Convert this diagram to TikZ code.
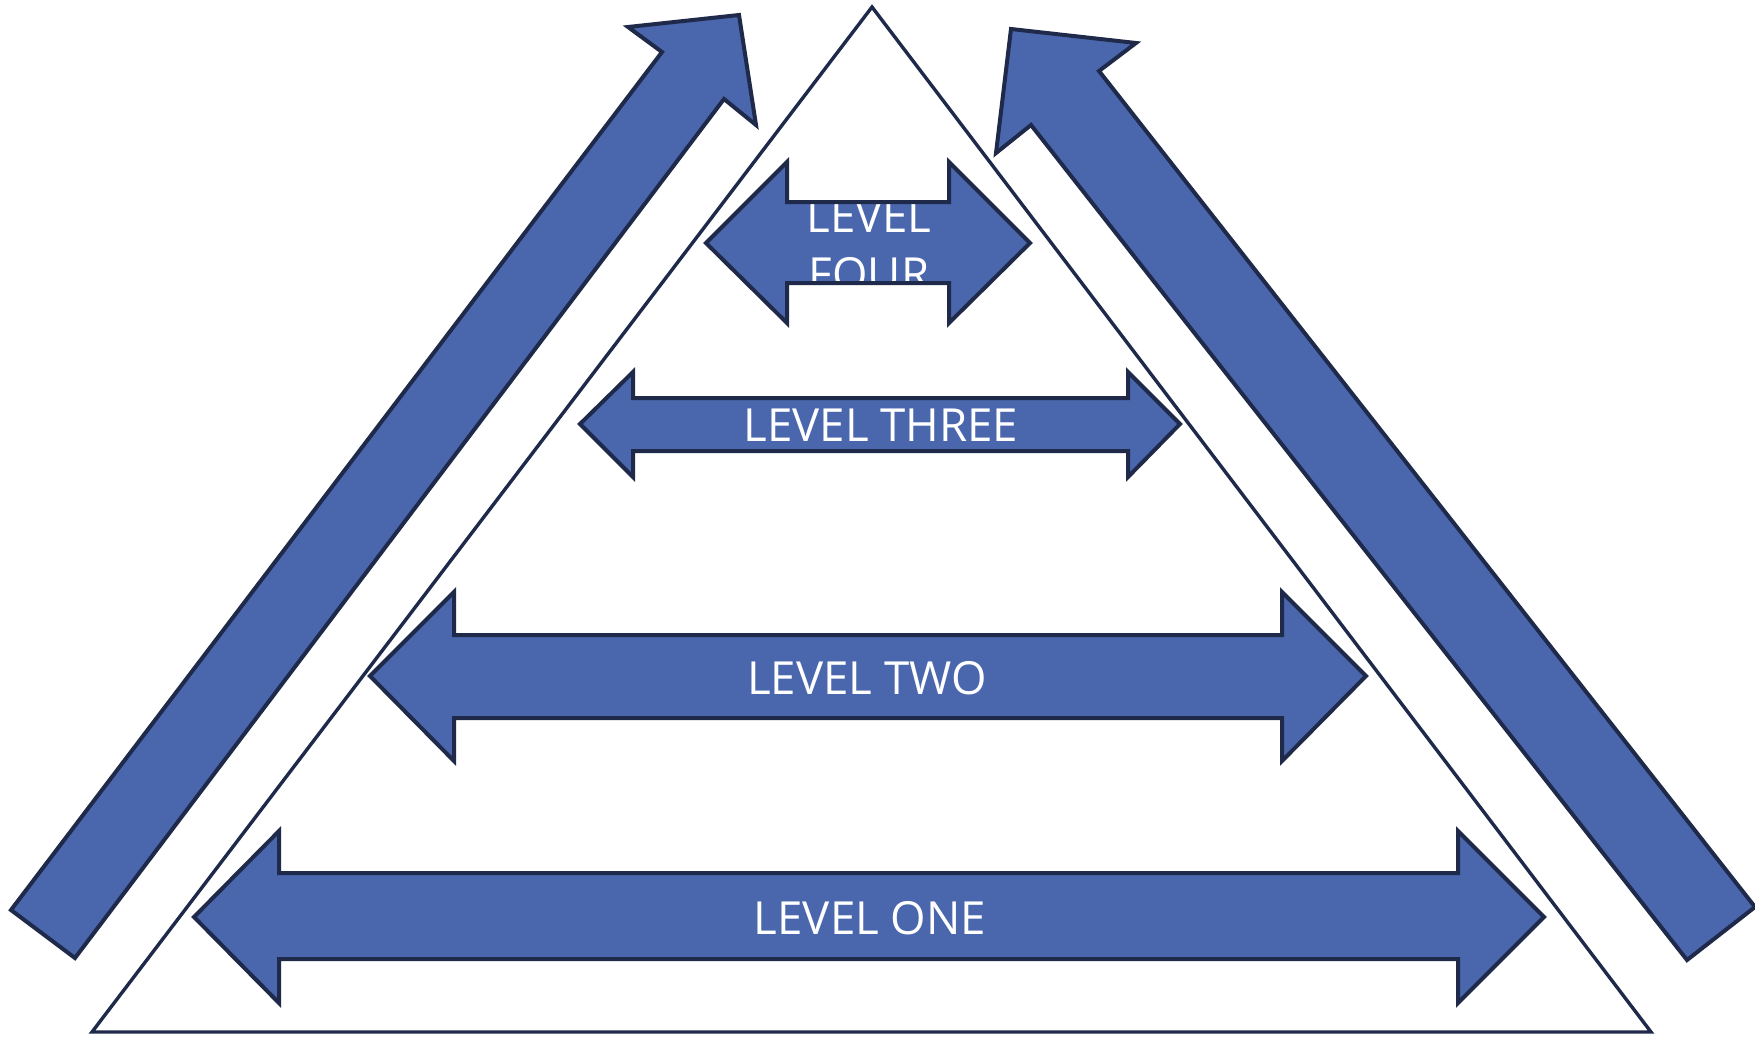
\documentclass[tikz,border=0pt]{standalone}
\usepackage{fontspec}
\setmainfont{Open Sans}
\usetikzlibrary{positioning}
\definecolor{lvlblue}{HTML}{4A67AD}
\definecolor{lvlline}{HTML}{1F2A4B}
\begin{document}
\begin{tikzpicture}[x=0.5pt,y=-0.5pt,
  lvl/.style={fill=lvlblue,draw=lvlline,line width=2pt,line join=miter},
  lvltext/.style={text=white,font=\fontsize{22.8}{29}\selectfont,align=center,inner sep=0pt}]

\useasboundingbox (0,0) rectangle (1755,1039);

% Draw the pyramid
\draw[lvlline,line width=1.7pt,line join=miter] (872,7) -- (1651,1032) -- (92,1032) -- cycle;

% Draw the big arrow on the left
\draw[lvl] (11,910) -- (662,52) -- (628,27) -- (739,15) -- (756,125) -- (724,99) -- (75,958) -- cycle;

% Draw the big arrow on the right
\draw[lvl] (1687,960) -- (1031,125) -- (996,153) -- (1011,29) -- (1136,43) -- (1099,71) -- (1755,907) -- cycle;

% Level one
\draw[lvl] (194,917) -- (279,831) -- (279,873) -- (1458,873) -- (1458,831) -- (1544,917)
  -- (1458,1003) -- (1458,959) -- (279,959) -- (279,1003) -- cycle;
\node[lvltext] (one) at (870,918) {LEVEL ONE};

% Level two
\draw[lvl] (370,676) -- (454,592) -- (454,635) -- (1282,635) -- (1282,592) -- (1366,676)
  -- (1282,761) -- (1282,718) -- (454,718) -- (454,761) -- cycle;
\node[lvltext] (two) at (867,678) {LEVEL TWO};

% Level three
\draw[lvl] (580,424) -- (633,372) -- (633,398) -- (1128,398) -- (1128,372) -- (1180,424)
  -- (1128,477) -- (1128,451) -- (633,451) -- (633,477) -- cycle;
\node[lvltext] (three) at (881,425) {LEVEL THREE};

% Level four (outline drawn again over the text)
\fill[lvlblue] (706,243) -- (787,162) -- (787,202) -- (949,202) -- (949,162) -- (1030,243)
  -- (949,323) -- (949,283) -- (787,283) -- (787,323) -- cycle;
\node[lvltext] (four) at (869,245) {LEVEL\\FOUR};
\draw[lvlline,line width=2pt,line join=miter] (706,243) -- (787,162) -- (787,202) -- (949,202) -- (949,162) -- (1030,243)
  -- (949,323) -- (949,283) -- (787,283) -- (787,323) -- cycle;

\end{tikzpicture}
\end{document}
